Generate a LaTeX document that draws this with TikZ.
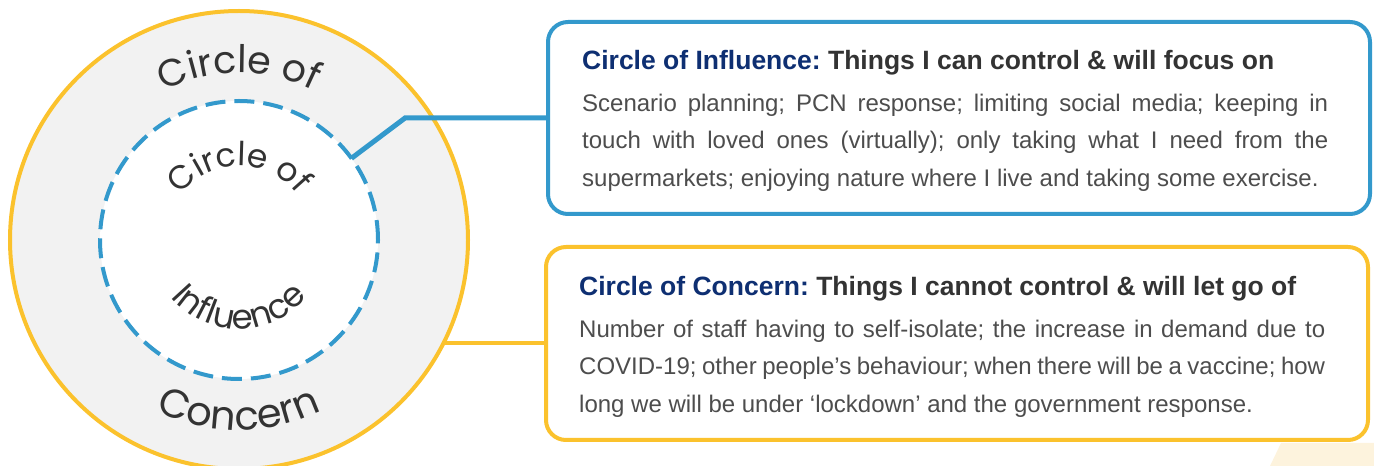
\documentclass[tikz,border=0pt]{standalone}
\usepackage{fontspec}
\setmainfont{Liberation Sans}
\newfontfamily\ringfont{Poppins}
\usetikzlibrary{calc, decorations.text}

\definecolor{ringyellow}{HTML}{FBC22D}
\definecolor{ringblue}{HTML}{3399CC}
\definecolor{ringgray}{HTML}{F2F2F2}
\definecolor{titlenavy}{HTML}{0E2F72}
\definecolor{titlegray}{HTML}{333333}
\definecolor{bodygray}{HTML}{4D4D4D}
\definecolor{cream}{HTML}{FDF3DD}

\frenchspacing

\begin{document}
\begin{tikzpicture}[x = 1pt, y = 1pt,
	infobox/.style = {draw, line width = 4pt, rounded corners = 20pt, fill = white, minimum width = 822pt, inner sep = 0pt},
	infotext/.style = {text width = 746pt, align = justify, inner sep = 0pt, anchor = base west},
	ring/.style = {circle, inner sep = 0pt, outer sep = 0pt}]

% Radii of the rings

\def\Rout{229}
\def\Rin{139}

\useasboundingbox (0, 0) rectangle (1374, 466);

% Pale corner in the background

\fill [cream] (1270, 0) -- (1281, 23) -- (1374, 23) -- (1374, 0) -- cycle;

% The two boxes

\node [infobox, draw = ringblue, minimum height = 192pt] (influencebox) at (959, 348) {};
\node [infobox, draw = ringyellow, minimum height = 193pt] (concernbox) at (957, 122.5) {};

\node [infotext] (influencetext) at ($(influencebox.north west) + (36, -50)$) {%
	{\fontsize{26.5}{30}\selectfont\bfseries\color{titlenavy}Circle of Influence: \color{titlegray}Things I can control \& will focus on\par}
	\vspace{4pt}
	{\fontsize{24}{37.5}\selectfont\color{bodygray}Scenario planning; PCN response; limiting social media; keeping in\linebreak touch with loved ones (virtually); only taking what I need from the\linebreak supermarkets; enjoying nature where I live and taking some exercise.\par}};

\node [infotext] (concerntext) at ($(concernbox.north west) + (35, -51)$) {%
	{\fontsize{26.5}{30}\selectfont\bfseries\color{titlenavy}Circle of Concern: \color{titlegray}Things I cannot control \& will let go of\par}
	\vspace{4pt}
	{\fontsize{24}{37.5}\selectfont\color{bodygray}Number of staff having to self-isolate; the increase in demand due to\linebreak COVID-19; other people’s behaviour; when there will be a vaccine; how\linebreak long we will be under ‘lockdown’ and the government response.\par}};

% The rings

\node [ring, draw = ringyellow, fill = ringgray, line width = 4pt, minimum size = 2 * \Rout] (concern) at (239, 226) {};
\node [ring, draw = ringblue, fill = white, line width = 4pt, dash pattern = on 20pt off 9pt, minimum size = 2 * \Rin] (influence) at (239, 226) {};

% Ring labels

\path [decorate, decoration = {text along path, text align = center, text = {|\ringfont\fontsize{38}{38}\selectfont\color{titlegray}|Circle of}}] ([shift = {(150 : 167)}] concern.center) arc (150 : 30 : 167);
\path [decorate, decoration = {text along path, text align = center, text = {|\ringfont\fontsize{40}{40}\selectfont\color{titlegray}|Concern}}] ([shift = {(200 : 190)}] concern.center) arc (200 : 340 : 190);
\path [decorate, decoration = {text along path, text align = center, text = {|\ringfont\fontsize{33}{33}\selectfont\color{titlegray}|Circle of}}] ([shift = {(180 : 74)}] influence.center) arc (180 : 0 : 74);
\path [decorate, decoration = {text along path, text align = center, text = {|\ringfont\fontsize{34}{34}\selectfont\color{titlegray}|Influence}}] ([shift = {(180 : 89)}] influence.center) arc (180 : 360 : 89);

% Connectors

\coordinate (elbow) at (405, 348);
\draw [ringblue, line width = 5pt] (influence.36) -- (elbow) -- (influencebox.west);
\draw [ringyellow, line width = 4pt] (concernbox.west) -- (concernbox.west -| concern.-26.7);

\end{tikzpicture}
\end{document}
